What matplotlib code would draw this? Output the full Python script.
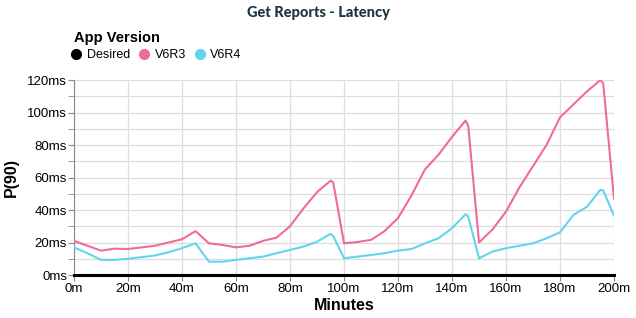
import matplotlib.pyplot as plt
from matplotlib.lines import Line2D
from matplotlib.ticker import MultipleLocator, FuncFormatter

plt.rcParams['font.family'] = ['Liberation Sans', 'DejaVu Sans']

minutes = [0, 5, 10, 15, 20, 25, 30, 35, 40, 45, 50, 55, 60, 65, 70, 75, 80, 85, 90, 95, 96,
           100, 105, 110, 115, 120, 125, 130, 135, 140, 145, 146,
           150, 155, 160, 165, 170, 175, 180, 185, 190, 195, 196, 200]
v6r3 = [21, 18, 15, 16.2, 16, 17, 18, 20, 22, 27, 19.5, 18.5, 17, 18, 21, 23, 30, 41, 51, 58, 57,
        19.5, 20.3, 21.6, 27, 35, 49, 65, 74, 85, 95, 92,
        20, 28, 39, 54, 67, 80, 97, 105, 113, 120, 118, 47]
v6r4 = [17, 13.4, 9.3, 9.3, 10, 11, 12, 14, 16.5, 19.5, 8.2, 8.2, 9.3, 10.3, 11.3, 13.4, 15.4, 17.5, 20.5, 25.3, 24,
        10.3, 11.3, 12.3, 13.4, 15, 16, 19.5, 22.6, 28.8, 37.4, 36,
        10.3, 14.4, 16.5, 18, 19.5, 22.6, 26.3, 37, 42, 52.5, 52, 36.6]
desired = [0] * len(minutes)

pink = '#ef6b99'
cyan = '#62d5ee'

fig = plt.figure(figsize=(6.36, 3.18), dpi=100)
ax = fig.add_axes([74 / 636, 1 - 275 / 318, 540 / 636, 195 / 318])

ax.plot(minutes, v6r3, color=pink, lw=1.5, zorder=3)
ax.plot(minutes, v6r4, color=cyan, lw=1.5, zorder=3)
ax.plot(minutes, desired, color='black', lw=2.2, zorder=4, clip_on=False)

ax.set_xlim(0, 200)
ax.set_ylim(0, 120)
ax.xaxis.set_major_locator(MultipleLocator(20))
ax.yaxis.set_major_locator(MultipleLocator(20))
ax.yaxis.set_minor_locator(MultipleLocator(10))
ax.xaxis.set_major_formatter(FuncFormatter(lambda v, p: f'{int(v)}m'))
ax.yaxis.set_major_formatter(FuncFormatter(lambda v, p: f'{int(v)}ms'))
ax.grid(True, which='both', axis='y', color='#dddddd', lw=0.9)
ax.grid(True, which='major', axis='x', color='#dddddd', lw=0.9)
ax.set_axisbelow(True)

for s in ['top', 'right', 'bottom']:
    ax.spines[s].set_visible(False)
ax.spines['left'].set_color('#888888')
ax.tick_params(axis='both', labelsize=9.5, color='#888888', length=4, pad=1)
ax.tick_params(axis='y', which='minor', color='#888888', length=4)
ax.tick_params(axis='x', length=4, pad=2)

ax.set_xlabel('Minutes', fontsize=11.5, fontweight='bold', labelpad=2)
ax.set_ylabel('P(90)', fontsize=11.5, fontweight='bold', labelpad=6)

fig.text(0.5, 1 - 13 / 318, 'Get Reports - Latency', ha='center', va='center',
         fontsize=10.5, fontweight='black', color='#1c3442', family=['Lato', 'DejaVu Sans'])

# legend title drawn separately so it sits close to the entries
fig.text(74 / 636, 1 - 38 / 318, 'App Version', ha='left', va='center',
         fontsize=10.5, fontweight='bold')
handles = [Line2D([], [], ls='', marker='o', ms=7, color=c) for c in ['black', pink, cyan]]
fig.legend(handles, ['Desired', 'V6R3', 'V6R4'], ncol=3,
           loc='center left', bbox_to_anchor=(70 / 636, 1 - 55 / 318), frameon=False,
           fontsize=9, handletextpad=0.35, columnspacing=0.6, handlelength=1.0,
           borderaxespad=0, borderpad=0)

fig.savefig('out.png', dpi=100)
